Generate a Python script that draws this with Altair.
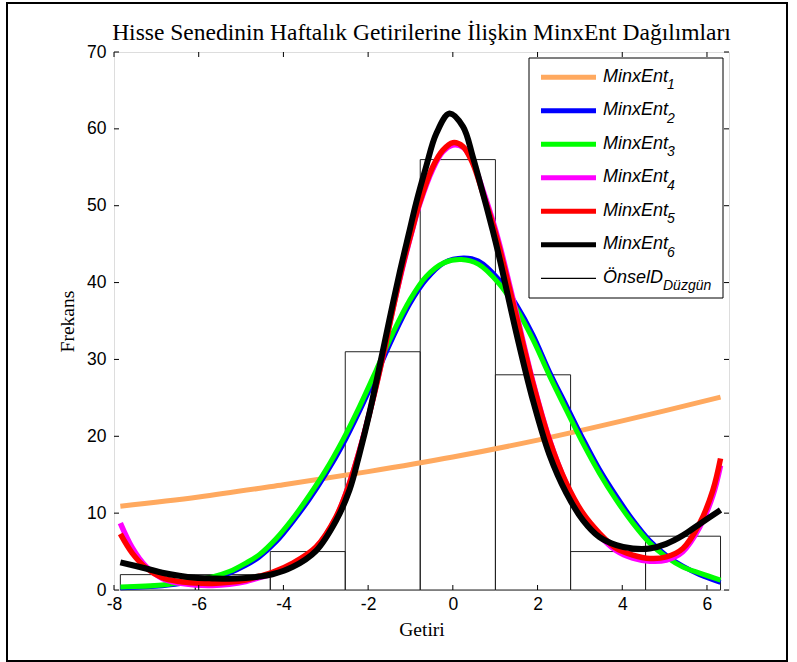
import altair as alt
import pandas as pd

# ---------------- data ----------------
bin_edges = [-7.85, -6.08, -4.31, -2.54, -0.77, 1.005, 2.78, 4.55, 6.32]
bin_counts = [2, 2, 5, 31, 56, 28, 5, 7]

m1_x = [-7.85, -6.0, -4.0, -2.0, 0.0, 2.0, 4.0, 6.32]
m1_y = [10.9, 12.1, 13.7, 15.4, 17.3, 19.5, 22.0, 25.1]

m2_x = [-7.85, -6.86, -6.08, -5.68, -5.28, -4.89, -4.57, -4.17, -3.78, -3.39, -3.0, -2.6, -2.21, -1.81,
        -1.42, -1.02, -0.63, -0.2, 0.25, 0.6, 1.1, 1.5, 1.89, 2.28, 2.68, 3.07, 3.46, 3.86, 4.25, 4.65,
        5.04, 5.43, 5.83, 6.32]
m2_y = [0.3, 0.55, 1.15, 1.55, 2.2, 3.2, 4.3, 6.3, 8.9, 11.8, 15.1, 18.9, 23.2, 28.0,
        32.8, 37.2, 40.4, 42.6, 43.2, 42.8, 40.3, 37.1, 33.2, 28.4, 24.0, 19.7, 15.7, 12.2, 9.1, 6.4,
        4.5, 3.1, 2.0, 1.0]

m3_x = [-7.85, -6.86, -6.08, -5.68, -5.28, -4.89, -4.57, -4.17, -3.78, -3.39, -3.0, -2.6, -2.21, -1.81,
        -1.42, -1.02, -0.63, -0.2, 0.2, 0.6, 1.1, 1.5, 1.89, 2.28, 2.68, 3.07, 3.46, 3.86, 4.25, 4.65,
        5.04, 5.43, 5.83, 6.32]
m3_y = [0.4, 0.65, 1.3, 1.7, 2.4, 3.5, 4.6, 6.7, 9.3, 12.3, 15.6, 19.5, 23.8, 28.6,
        33.4, 37.7, 40.8, 42.6, 43.0, 42.4, 39.8, 36.6, 32.6, 27.9, 23.4, 19.1, 15.2, 11.7, 8.7, 6.1,
        4.3, 3.0, 2.2, 1.3]

m45_x = [-7.85, -7.57, -7.25, -6.86, -6.46, -6.08, -5.68, -5.28, -4.89, -4.57, -4.26, -3.78, -3.23, -2.76,
         -2.44, -2.2, -1.89, -1.65, -1.42, -1.18, -0.94, -0.79, -0.47, -0.24, 0.0, 0.24, 0.47, 0.71, 0.94,
         1.1, 1.5, 1.89, 2.28, 2.68, 3.07, 3.46, 3.86, 4.25, 4.65, 5.04, 5.43, 5.83, 6.14, 6.32]
m4_y = [8.7, 5.5, 3.1, 1.5, 0.9, 0.65, 0.6, 0.75, 1.1, 1.6, 2.1, 3.3, 5.5, 9.4,
        13.9, 18.2, 24.8, 30.5, 36.5, 42.1, 47.2, 50.1, 54.8, 57.0, 57.9, 57.6, 55.7, 52.0, 48.1,
        45.0, 36.0, 27.1, 19.6, 13.8, 9.8, 7.1, 5.1, 4.15, 3.75, 3.9, 5.0, 8.2, 12.3, 16.2]
m5_y = [7.3, 4.8, 2.9, 1.6, 1.1, 0.9, 0.85, 1.0, 1.3, 1.8, 2.3, 3.5, 5.6, 9.5,
        13.9, 18.2, 24.7, 30.4, 36.4, 42.3, 47.3, 50.3, 55.1, 57.2, 58.2, 57.7, 55.5, 51.6, 47.7,
        44.5, 35.6, 26.9, 19.5, 13.9, 10.0, 7.4, 5.4, 4.55, 4.1, 4.3, 5.4, 8.7, 13.0, 17.1]

m6_x = [-7.85, -7.25, -6.86, -6.46, -6.08, -5.68, -5.28, -4.89, -4.57, -4.26, -3.78, -3.23, -2.76, -2.44,
        -2.2, -1.97, -1.73, -1.5, -1.26, -1.02, -0.87, -0.63, -0.39, -0.08, 0.24, 0.47, 0.71, 0.94, 1.1,
        1.5, 1.89, 2.28, 2.68, 3.07, 3.46, 3.86, 4.25, 4.65, 5.04, 5.43, 5.83, 6.32]
m6_y = [3.6, 2.8, 2.25, 1.85, 1.6, 1.5, 1.45, 1.55, 1.75, 2.05, 3.0, 5.1, 9.0, 13.0,
        17.8, 23.0, 29.1, 35.1, 41.2, 46.8, 50.3, 55.1, 59.4, 62.0, 60.3, 56.4, 51.6, 46.8, 43.2,
        33.4, 24.7, 17.6, 12.6, 9.1, 6.9, 5.85, 5.4, 5.4, 6.0, 7.1, 8.6, 10.4]

series_names = ["MinxEnt1", "MinxEnt2", "MinxEnt3", "MinxEnt4", "MinxEnt5", "MinxEnt6"]
series_x = [m1_x, m2_x, m3_x, m45_x, m45_x, m6_x]
series_y = [m1_y, m2_y, m3_y, m4_y, m5_y, m6_y]
series_colors = ["#FFA95F", "#0000FF", "#00FF00", "#FF00FF", "#FF0000", "#000000"]
series_widths = [5, 5, 5, 5.5, 5.5, 6]

x_ticks = [-8, -6, -4, -2, 0, 2, 4, 6]
y_ticks = [0, 10, 20, 30, 40, 50, 60, 70]

title_text = "Hisse Senedinin Haftalık Getirilerine İlişkin MinxEnt Dağılımları"
legend_main = ["MinxEnt", "MinxEnt", "MinxEnt", "MinxEnt", "MinxEnt", "MinxEnt", "ÖnselD"]
legend_sub = ["1", "2", "3", "4", "5", "6", "Düzgün"]
legend_colors = series_colors + ["#000000"]
legend_widths = [5, 5, 5, 5, 5, 5, 1.3]

# ---------------- layout ----------------
W, H = 615, 538
PL, PT = 114, 52
xs = alt.Scale(domain=[-8, 6.52], nice=False, zero=False)
ys = alt.Scale(domain=[0, 70], nice=False, zero=True)

xaxis = alt.Axis(title="Getiri", values=x_ticks, ticks=False, domain=False, grid=False,
                 labelExpr="'' + datum.value",
                 labelFont="Liberation Sans", labelFontSize=17.5, labelColor="#000",
                 labelPadding=5, titleFont="Liberation Serif", titleFontSize=19.5,
                 titleFontWeight="normal", titleColor="#000", titlePadding=8, labelFlush=False)
yaxis = alt.Axis(title="Frekans", values=y_ticks, ticks=False, domain=False, grid=False,
                 labelFont="Liberation Sans", labelFontSize=17.5, labelColor="#000",
                 labelPadding=8, titleFont="Liberation Serif", titleFontSize=19.5,
                 titleFontWeight="normal", titleColor="#000", titlePadding=9, labelFlush=False)

hist_df = pd.DataFrame({"start": bin_edges[:-1], "end": bin_edges[1:], "count": bin_counts})
hist = alt.Chart(hist_df).mark_rect(fill=None, stroke="#222", strokeWidth=1).encode(
    x=alt.X("start:Q", scale=xs, axis=xaxis),
    x2="end:Q",
    y=alt.Y("count:Q", scale=ys, axis=yaxis),
    y2=alt.datum(0),
)

layers = [hist]
for name, sx, sy, col, w in zip(series_names, series_x, series_y, series_colors, series_widths):
    df = pd.DataFrame({"x": sx, "y": sy})
    layers.append(
        alt.Chart(df).mark_line(color=col, strokeWidth=w, interpolate="catmull-rom",
                                strokeCap="butt", strokeJoin="round").encode(
            x=alt.X("x:Q", scale=xs, axis=xaxis),
            y=alt.Y("y:Q", scale=ys, axis=yaxis),
        )
    )

xt = pd.DataFrame({"t": x_ticks})
yt = pd.DataFrame({"t": y_ticks})
tk = dict(color="#000", strokeWidth=1)
layers += [
    alt.Chart(xt).mark_rule(**tk).encode(x=alt.X("t:Q", scale=xs, axis=xaxis), y=alt.value(H), y2=alt.value(H - 5)),
    alt.Chart(xt).mark_rule(**tk).encode(x=alt.X("t:Q", scale=xs, axis=xaxis), y=alt.value(0), y2=alt.value(5)),
    alt.Chart(yt).mark_rule(**tk).encode(y=alt.Y("t:Q", scale=ys, axis=yaxis), x=alt.value(0), x2=alt.value(5)),
    alt.Chart(yt).mark_rule(**tk).encode(y=alt.Y("t:Q", scale=ys, axis=yaxis), x=alt.value(W), x2=alt.value(W - 5)),
]

one = pd.DataFrame({"a": [0]})
# title
layers.append(alt.Chart(one).mark_text(align="center", baseline="alphabetic", font="Liberation Serif",
                                       fontSize=23.5, color="#000").encode(
    x=alt.value(W / 2), y=alt.value(-12), text=alt.value(title_text)))
# legend box
layers.append(alt.Chart(one).mark_rect(fill="white", stroke="#000", strokeWidth=1).encode(
    x=alt.value(415), x2=alt.value(609), y=alt.value(6), y2=alt.value(246)))
for i, (mt, st, col, w) in enumerate(zip(legend_main, legend_sub, legend_colors, legend_widths)):
    ry = 25.3 + 33.5 * i
    layers.append(alt.Chart(one).mark_rule(color=col, strokeWidth=w).encode(
        x=alt.value(427), x2=alt.value(482), y=alt.value(ry), y2=alt.value(ry)))
    layers.append(alt.Chart(one).mark_text(align="left", baseline="alphabetic", font="Liberation Sans",
                                           fontStyle="italic", fontSize=18, color="#000").encode(
        x=alt.value(489), y=alt.value(ry + 4.5), text=alt.value(mt)))
    sub_x = 553 if i < 6 else 549
    layers.append(alt.Chart(one).mark_text(align="left", baseline="alphabetic", font="Liberation Sans",
                                           fontStyle="italic", fontSize=14, color="#000").encode(
        x=alt.value(sub_x), y=alt.value(ry + 12), text=alt.value(st)))

# outer figure frame
layers.append(alt.Chart(one).mark_rect(fill=None, stroke="#000", strokeWidth=2).encode(
    x=alt.value(7 - PL), x2=alt.value(787 - PL), y=alt.value(3 - PT), y2=alt.value(661 - PT)))

chart = alt.layer(*layers).properties(
    width=W, height=H,
    autosize=alt.AutoSizeParams(type="none"),
    padding={"left": PL, "top": PT, "right": 797 - PL - W, "bottom": 662 - PT - H},
).configure_view(stroke="#000", strokeWidth=1).configure(background="white")

chart.save("out.html", embed_options={"renderer": "svg", "actions": False})
